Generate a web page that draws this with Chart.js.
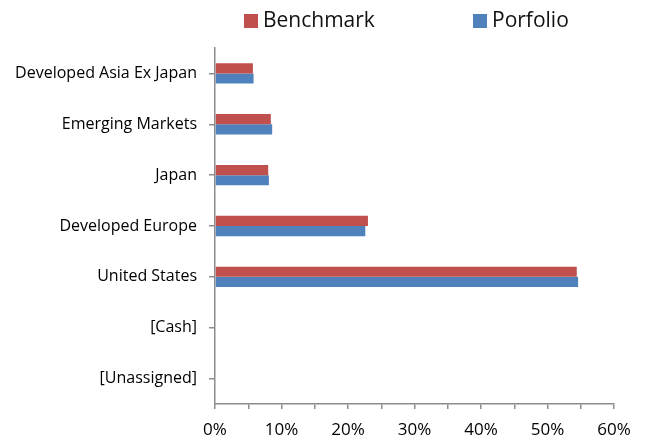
<!DOCTYPE html>
<html>
<head>
<meta charset="utf-8">
<script src="https://cdn.jsdelivr.net/npm/chart.js@4"></script>
<style>
  html, body { margin: 0; padding: 0; background: #fff; }
  #wrap { position: relative; width: 647px; height: 440px; }
  #legend { position: absolute; top: 5px; left: 0; width: 647px; font-family: "Open Sans", sans-serif; font-size: 21px; color: #111; }
  .item { position: absolute; top: 0; white-space: nowrap; }
  .box { display: inline-block; width: 14px; height: 14px; margin-right: 5px; vertical-align: -1px; }
</style>
</head>
<body>
<div id="wrap">
  <div id="legend"></div>
  <canvas id="allocChart" width="647" height="440"></canvas>
</div>
<script>
const regions = ['Developed Asia Ex Japan', 'Emerging Markets', 'Japan', 'Developed Europe', 'United States', '[Cash]', '[Unassigned]'];
const benchmark = [5.7, 8.4, 8.0, 23.0, 54.4, 0, 0];
const portfolio = [5.8, 8.6, 8.1, 22.6, 54.6, 0, 0];
const seriesNames = ['Benchmark', 'Porfolio'];
const seriesColors = ['#C0504D', '#4F81BD'];

// legend (html, fixed spots like the original)
const legendEl = document.getElementById('legend');
const legendX = [244, 473];
seriesNames.forEach((name, i) => {
    const d = document.createElement('div');
    d.className = 'item';
    d.style.left = legendX[i] + 'px';
    d.innerHTML = `<span class="box" style="background:${seriesColors[i]}"></span>${name}`;
    legendEl.appendChild(d);
});

const axisColor = '#8C8C8C';
const ctx = document.getElementById('allocChart').getContext('2d');

new Chart(ctx, {
    type: 'bar',
    data: {
        labels: regions,
        datasets: [
            { label: seriesNames[0], data: benchmark, backgroundColor: seriesColors[0] },
            { label: seriesNames[1], data: portfolio, backgroundColor: seriesColors[1] }
        ]
    },
    options: {
        indexAxis: 'y',
        responsive: false,
        animation: false,
        layout: { padding: { top: 48, right: 33, bottom: 0, left: 0 } },
        datasets: { bar: { barPercentage: 1, categoryPercentage: 0.4 } },
        plugins: {
            legend: { display: false },
            tooltip: { enabled: false }
        },
        scales: {
            x: {
                min: 0,
                max: 60,
                border: { display: true, color: axisColor, width: 1.5 },
                grid: { drawOnChartArea: false, drawTicks: true, tickLength: 5, color: axisColor, lineWidth: 1.5 },
                ticks: {
                    stepSize: 5,
                    autoSkip: false,
                    maxRotation: 0,
                    padding: 11,
                    color: '#000',
                    font: { family: 'Open Sans', size: 17 },
                    callback: v => v % 10 === 0 ? v + '%' : ''
                },
                afterFit: s => { s.height = 36; }
            },
            y: {
                border: { display: true, color: axisColor, width: 1.5 },
                grid: { offset: false, drawOnChartArea: false, drawTicks: true, tickLength: 6, color: axisColor, lineWidth: 1.5 },
                ticks: {
                    padding: 12,
                    color: '#000',
                    font: { family: 'Open Sans', size: 16 }
                },
                afterFit: s => { s.width = 215; }
            }
        }
    }
});
</script>
</body>
</html>
